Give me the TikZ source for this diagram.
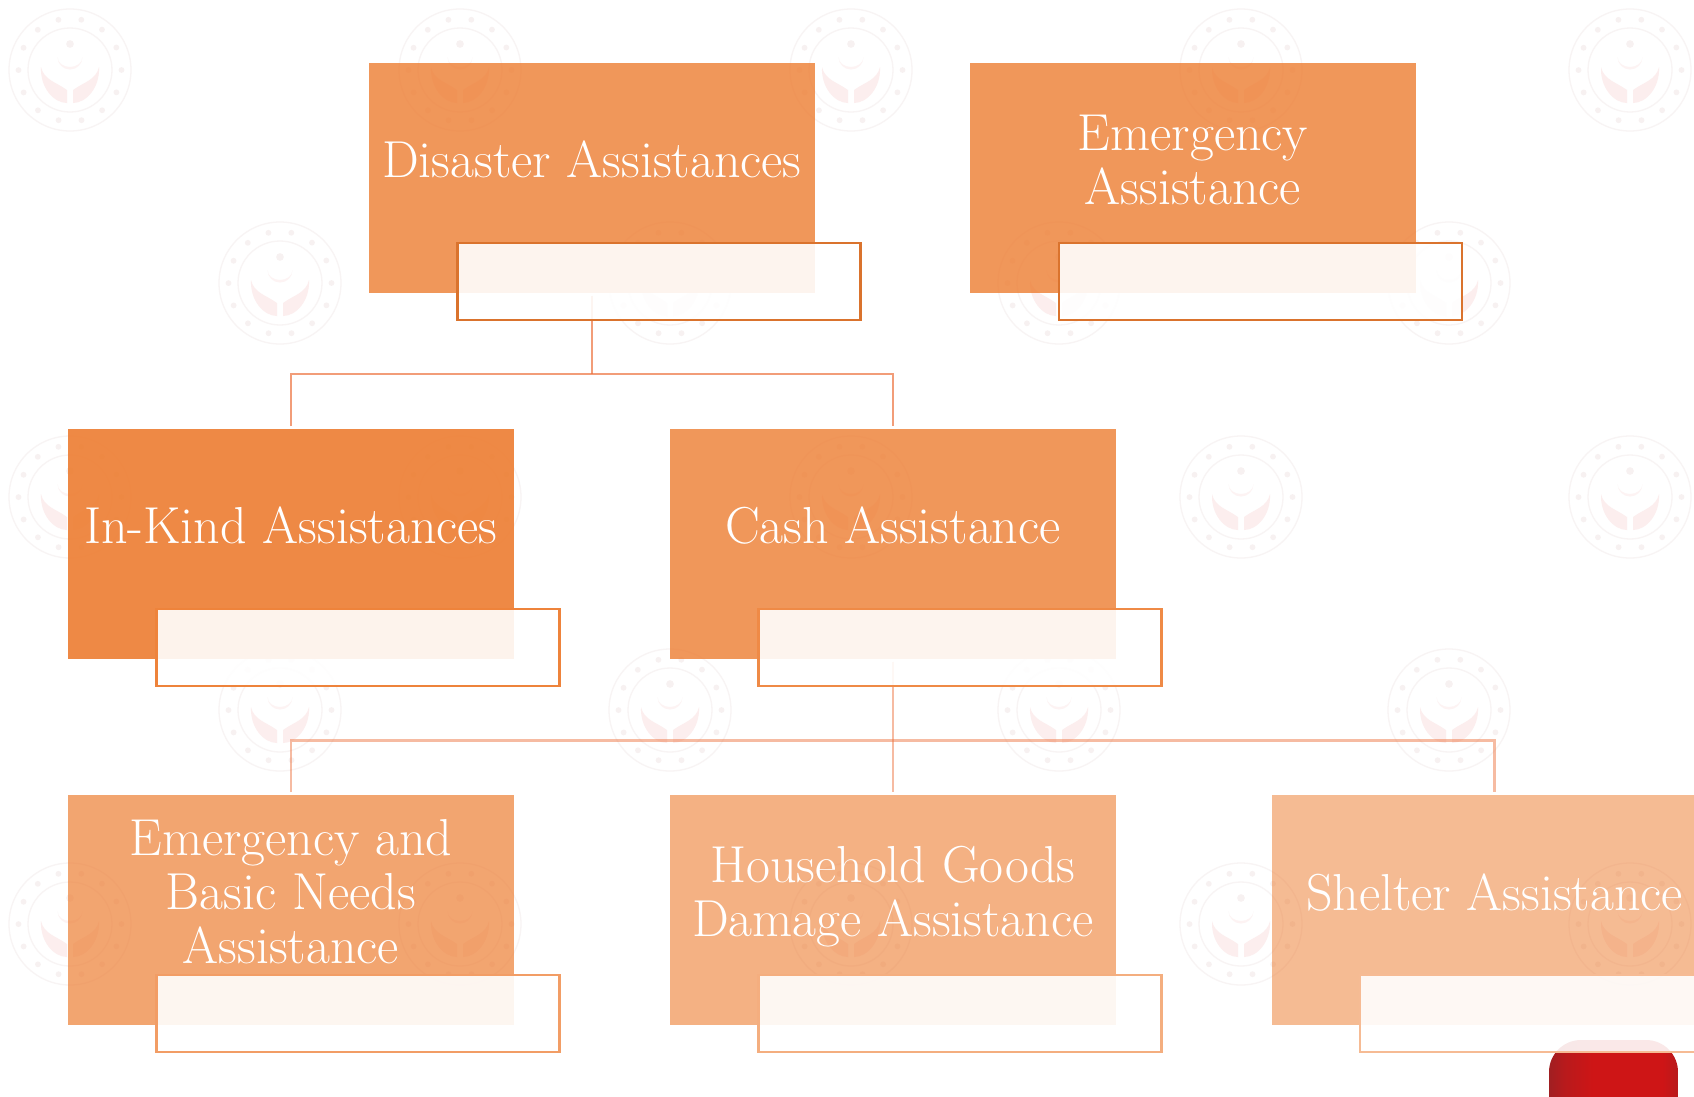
\documentclass[tikz,border=0pt]{standalone}
\usetikzlibrary{positioning,calc}
\definecolor{base}{HTML}{ED7D31}
\definecolor{connc}{HTML}{EC6F3A}
\definecolor{ringc}{HTML}{F8F4F4}
\definecolor{dotc}{HTML}{F7F1F1}
\definecolor{handc}{HTML}{FCEEEE}
\definecolor{pa}{HTML}{A01F22}
\definecolor{pb}{HTML}{B81A1C}
\definecolor{pc}{HTML}{CE1516}
\pgfdeclarehorizontalshading{pillshade}{100bp}{
 color(0bp)=(pa); color(25bp)=(pa); color(31bp)=(pb); color(42bp)=(pc); color(69bp)=(pc); color(75bp)=(pb); color(100bp)=(pb)}
\newcommand{\wmlogo}[2]{%
 \begin{scope}[shift={(#1,#2)}]
  \draw[ringc,line width=1.3pt] (0,0) circle[radius=61];
  \draw[ringc,line width=1.3pt] (0,0) circle[radius=42];
  \foreach \a in {0,25.7,...,340}{\fill[dotc] (\a:51.5) circle[radius=2.9];}
  \fill[dotc] (0,-26) circle[radius=3.8];
  \fill[handc!70!white] (-12.5,-13) arc[start angle=180,end angle=0,radius=12.5] arc[start angle=0,end angle=180,x radius=12.5,y radius=10] -- cycle;
  \fill[handc] (-29,-3) .. controls (-26,10) and (-14,12) .. (-3,20) -- (-3,33) .. controls (-16,33) and (-30,18) .. cycle;
  \fill[handc] (29,-3) .. controls (26,10) and (14,12) .. (3,20) -- (3,33) .. controls (16,33) and (30,18) .. cycle;
 \end{scope}}
\tikzset{
 x=1pt,y=-1pt,
 box/.style={fill=base,draw=none,inner sep=0pt,minimum width=445.4pt,minimum height=229.5pt,anchor=north west},
 veil/.style={fill=white,fill opacity=.9,inner sep=0pt,minimum width=403pt,minimum height=77pt,anchor=north west,line width=2.4pt},
 lbl/.style={text=white,align=center,font=\fontsize{52}{54}\selectfont,inner sep=0pt},
 conn/.style={draw=connc,line width=2.8pt},
}
\begin{document}
\begin{tikzpicture}
\clip (0,0) rectangle (1694,1096);
\fill[white] (0,0) rectangle (1694,1096);
% watermark
\foreach \y in {70,497,924}{\foreach \x in {70,460,851,1241,1630}{\wmlogo{\x}{\y}}}
\foreach \y in {283,710}{\foreach \x in {280,670,1059,1449}{\wmlogo{\x}{\y}}}
% boxes
\node[box,opacity=.80] (b1) at (369,63) {};
\node[box,opacity=.80] (b2) at (970,63) {};
\node[box,opacity=.90] (b3) at (68,429) {};
\node[box,opacity=.80] (b4) at (670,429) {};
\node[box,opacity=.69] (b5) at (68,795) {};
\node[box,opacity=.60] (b6) at (670,795) {};
\node[box,opacity=.52] (b7) at (1271.6,795) {};
% connectors
\coordinate (j1) at ($(b1.south)+(0,81)$);
\coordinate (j2) at ($(b4.south)+(0,81.5)$);
\draw[conn,draw opacity=.68] ($(b1.south)+(0,3)$) -- (j1);
\draw[conn,draw opacity=.68] ($(b3.north)+(0,-3)$) -- (j1 -| b3.north) -- (j1 -| b4.north) -- ($(b4.north)+(0,-3)$);
\draw[conn,draw opacity=.47] ($(b4.south)+(0,3)$) -- ($(b6.north)+(0,-3)$);
\draw[conn,draw opacity=.47] ($(b5.north)+(0,-3)$) -- (j2 -| b5.north) -- (j2 -| b7.north) -- ($(b7.north)+(0,-3)$);
% pill
\shade[shading=pillshade,rounded corners=32pt] (1549,1040) rectangle (1678,1130);
% outlines
\node[veil,draw=base!92!black] (v1) at (456.2,242) {};
\node[veil,draw=base!92!black] (v2) at (1058,242) {};
\node[veil,draw=base!95!white] (v3) at (155.2,608) {};
\node[veil,draw=base!90!white] (v4) at (757.2,608) {};
\node[veil,draw=base!75!white] (v5) at (155.2,974) {};
\node[veil,draw=base!62!white] (v6) at (757.2,974) {};
\node[veil,draw=base!52!white] (v7) at (1358.7,974) {};
% labels
\node[lbl] (t1) at ($(b1.center)+(0,-19)$) {Disaster Assistances};
\node[lbl] (t2) at ($(b2.center)+(0,-18)$) {Emergency\\Assistance};
\node[lbl] (t3) at ($(b3.center)+(0,-18.5)$) {In-Kind Assistances};
\node[lbl] (t4) at ($(b4.center)+(0,-18)$) {Cash Assistance};
\node[lbl] (t5) at ($(b5.center)+(0,-18)$) {Emergency and\\Basic Needs\\Assistance};
\node[lbl] (t6) at ($(b6.center)+(0,-13)$) {Household Goods\\Damage Assistance};
\node[lbl] (t7) at ($(b7.center)+(0,-17)$) {Shelter Assistance};
\end{tikzpicture}
\end{document}
